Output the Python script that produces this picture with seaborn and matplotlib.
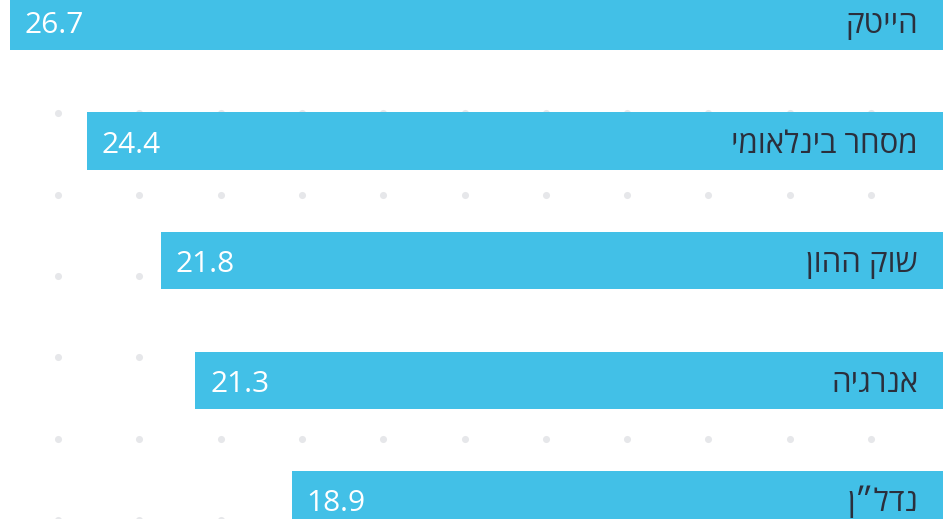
import seaborn as sns
import matplotlib.pyplot as plt
import numpy as np
import pandas as pd

# data
sectors = ["הייטק", "מסחר בינלאומי", "שוק ההון", "אנרגיה", "נדל״ן"]
values = [26.7, 24.4, 21.8, 21.3, 18.9]          # printed labels
bar_lengths = [26.7, 24.5, 22.38, 21.4, 18.64]   # lengths as drawn in the picture

df = pd.DataFrame({"sector": sectors, "value": values, "length": bar_lengths})

sns.set_style("white")
plt.rcParams['font.family'] = ['Open Sans', 'Liberation Sans', 'DejaVu Sans']

BAR = "#42c0e7"
DOT = "#e6e7ea"
px_per_unit = 34.95
base_off = 11.5 / 119.6   # text baseline below bar centre

fig = plt.figure(figsize=(9.46, 5.19), dpi=100)

# background dot grid (decoration, in pixels)
bg = fig.add_axes([0, 0, 1, 1])
bg.set_xlim(0, 946)
bg.set_ylim(519, 0)
bg.axis('off')
gx, gy = np.meshgrid(58 + 81.3 * np.arange(11), 32 + 81.3 * np.arange(7))
bg.scatter(gx.ravel(), gy.ravel(), s=26, color=DOT, linewidths=0, zorder=0)

# bars, growing from the right edge to the left
ax = fig.add_axes([0, 0, 943 / 946, 1])
ax.patch.set_alpha(0)
sns.barplot(data=df, x="length", y="sector", order=sectors, orient="h",
            color=BAR, saturation=1, width=0.48, linewidth=0, ax=ax)
ax.set_xlim(943 / px_per_unit, 0)
ax.set_ylim(4 + 19 / 119.6, -21.5 / 119.6)
ax.axis('off')

for i, row in df.iterrows():
    ax.text(row["length"] - 15 / px_per_unit, i + base_off, f"{row['value']:.1f}",
            ha="left", va="baseline", fontsize=21.5, color="white")
    # matplotlib has no bidi, so reverse the Hebrew for display
    ax.text(25 / px_per_unit, i + base_off, row["sector"][::-1], ha="right",
            va="baseline", fontsize=22.5, color="#2b2f3c")

fig.savefig("out.png", dpi=100)
